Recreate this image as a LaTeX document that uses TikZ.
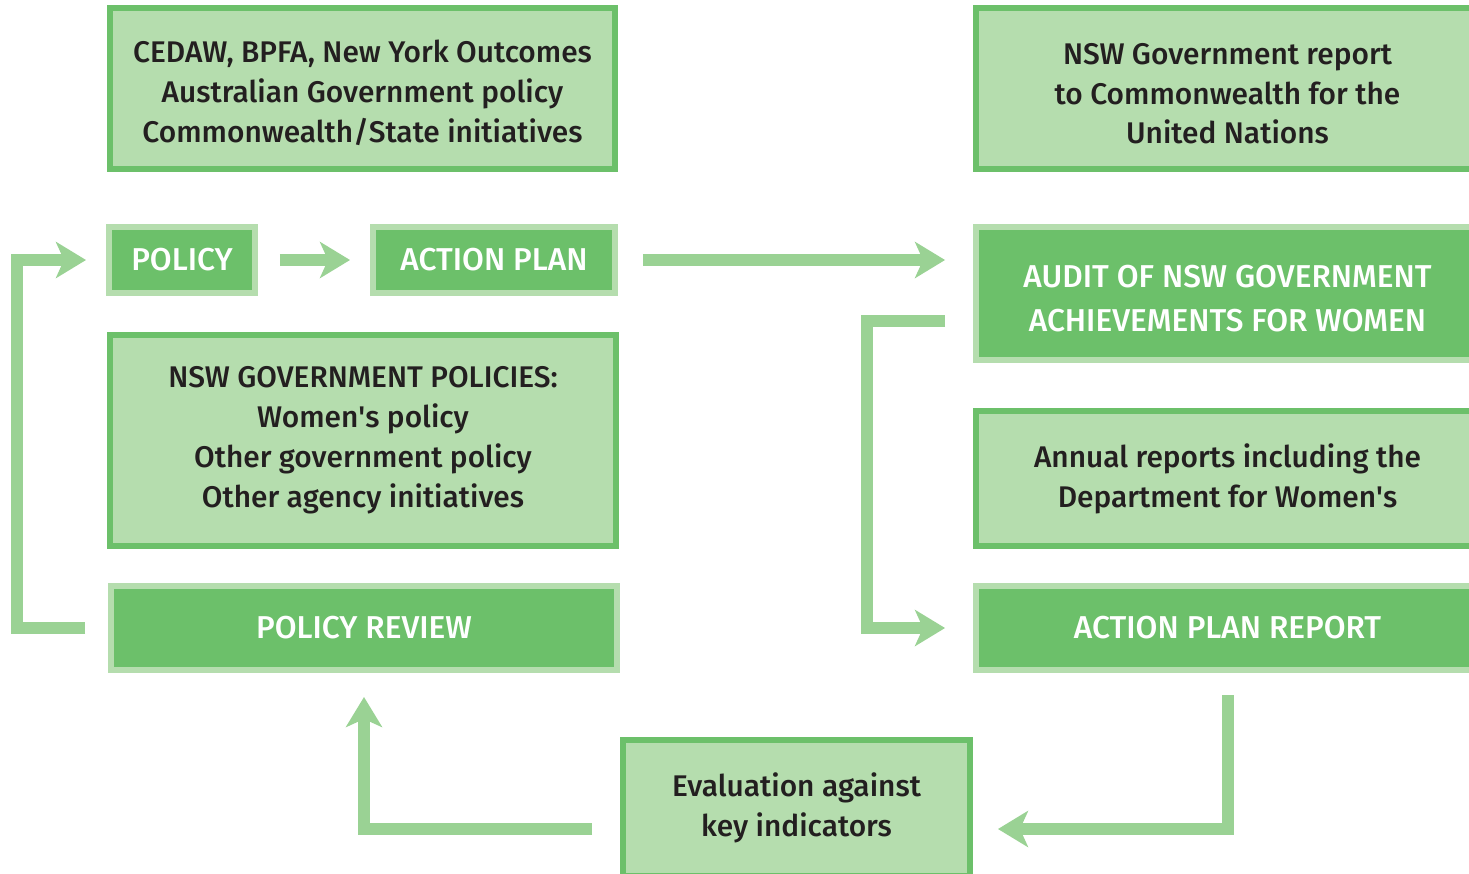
\documentclass[tikz,border=0pt]{standalone}
\usepackage{fontspec}
\setmainfont{Fira Sans}[UprightFont=* Medium]
\usepackage{tikz}
\usetikzlibrary{arrows.meta}

\definecolor{lightgreen}{HTML}{B5DDAE}
\definecolor{darkgreen}{HTML}{6CC06A}
\definecolor{arrowgreen}{HTML}{9AD294}
\definecolor{ink}{HTML}{231F20}

\begin{document}
\begin{tikzpicture}[x=0.02cm,y=-0.02cm,
    light box/.style={rectangle,draw=darkgreen,fill=lightgreen,line width=0.12cm,
      text=ink,align=center,font=\fontsize{17}{22.7}\selectfont},
    dark box/.style={rectangle,draw=lightgreen,fill=darkgreen,line width=0.12cm,
      text=white,align=center,font=\fontsize{18}{22.7}\selectfont},
    flow/.style={draw=arrowgreen,line width=0.24cm,line join=miter,
      -{Stealth[length=0.6cm,width=0.72cm,inset=0.16cm]}}]

  \clip (0,0) rectangle (1469,873);
  \useasboundingbox (0,0) rectangle (1469,873);

  \node[light box,minimum width=10.1cm,minimum height=3.22cm,text height=63.4pt] (sources) at (362.5,88.5)
    {CEDAW, BPFA, New York Outcomes\\Australian Government policy\\Commonwealth/State initiatives};
  \node[light box,minimum width=10.06cm,minimum height=3.22cm,text height=63.4pt] (un) at (1227.5,88.5)
    {NSW Government report\\to Commonwealth for the\\United Nations};
  \node[dark box,minimum width=2.92cm,minimum height=1.32cm] (policy) at (182,260) {POLICY};
  \node[dark box,minimum width=4.84cm,minimum height=1.32cm] (plan) at (494,260) {ACTION PLAN};
  \node[light box,minimum width=10.12cm,minimum height=4.22cm] (policies) at (363,440.5)
    {NSW GOVERNMENT POLICIES:\\Women\textquotesingle s policy\\Other government policy\\Other agency initiatives};
  \node[dark box,minimum width=10.12cm,minimum height=1.68cm] (review) at (364,628) {POLICY REVIEW};
  \node[dark box,minimum width=10.06cm,minimum height=2.66cm,
    font=\fontsize{18}{25}\selectfont,text height=43pt] (audit) at (1227.5,293.5)
    {AUDIT OF NSW GOVERNMENT\\ACHIEVEMENTS FOR WOMEN};
  \node[light box,minimum width=10.06cm,minimum height=2.7cm] (annual) at (1227.5,478.5)
    {Annual reports including the\\Department for Women\textquotesingle s};
  \node[dark box,minimum width=10.06cm,minimum height=1.68cm] (report) at (1227.5,628) {ACTION PLAN REPORT};
  \node[light box,minimum width=6.94cm,minimum height=2.72cm] (eval) at (796.5,808)
    {Evaluation against\\key indicators};

  \draw[flow,shorten <=0.44cm,shorten >=0.4cm] (policy) -- (plan);
  \draw[flow,shorten <=0.5cm,shorten >=0.56cm] (plan.east) -- (plan.east -| audit.west);
  \draw[flow,shorten <=0.46cm,shorten >=0.4cm] (review.west) -- ++(-91,0) |- (policy.west);
  \draw[flow,shorten <=0.56cm,shorten >=0.56cm] ([yshift=-0.55cm]audit.west) -- ++(-106,0) |- (report.west);
  \draw[flow,shorten <=0.44cm,shorten >=0.5cm] (report.south) |- ([yshift=-0.42cm]eval.east);
  \draw[flow,shorten <=0.56cm,shorten >=0.48cm] ([yshift=-0.42cm]eval.west) -| (review.south);
\end{tikzpicture}
\end{document}
